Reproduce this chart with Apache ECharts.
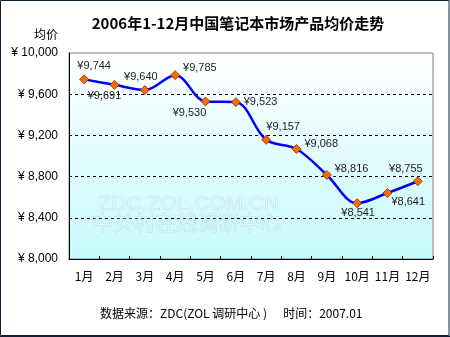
<!DOCTYPE html>
<html>
<head>
<meta charset="utf-8">
<script src="https://cdn.jsdelivr.net/npm/echarts@6/dist/echarts.min.js"></script>
<style>
  html, body { margin: 0; padding: 0; background: #ffffff; }
  #chart { width: 450px; height: 337px; }
</style>
</head>
<body>
<div id="chart"></div>
<script>
// Average notebook price by month, 2006 (CNY)
const months = ['1月', '2月', '3月', '4月', '5月', '6月', '7月', '8月', '9月', '10月', '11月', '12月'];
const avgPrice = [9744, 9691, 9640, 9785, 9530, 9523, 9157, 9068, 8816, 8541, 8641, 8755];
// where each value label sits relative to its marker
const labelSide = ['top', 'bottom', 'top', 'right', 'bottom', 'right', 'top', 'right', 'right', 'bottom', 'right', 'top'];
const labelShift = [[10, 0], [-10, -2], [-4, 0], [0, -7], [-16, -2], [0, 0], [17, 1], [0, -5], [0, -6], [1, -4], [-4, 9], [-12, 1]];
const yTicks = { min: 8000, max: 10000, step: 400 };

const fmt = v => v.toString().replace(/\B(?=(\d{3})+(?!\d))/g, ',');
const baseFont = 'Arial, "Liberation Sans", "Noto Sans CJK SC", sans-serif';
const cjkFont = '"Noto Sans CJK SC", sans-serif';

const chart = echarts.init(document.getElementById('chart'), null, { renderer: 'canvas' });

chart.setOption({
  backgroundColor: '#ffffff',
  animation: false,
  title: {
    text: '2006年1-12月中国笔记本市场产品均价走势',
    left: 233,
    textAlign: 'center',
    top: 11,
    textStyle: { fontSize: 15, fontWeight: 'bold', color: '#000', fontFamily: cjkFont }
  },
  grid: {
    left: 69, right: 17, top: 53, bottom: 78,
    show: true,
    borderColor: '#808080',
    borderWidth: 1,
    backgroundColor: {
      type: 'linear', x: 0, y: 0, x2: 0, y2: 1,
      colorStops: [{ offset: 0, color: '#ffffff' }, { offset: 1, color: '#c6f9fc' }]
    }
  },
  xAxis: {
    type: 'category',
    data: months,
    boundaryGap: true,
    axisLine: { lineStyle: { color: '#000', width: 1 } },
    axisTick: { show: true, inside: true, length: 3, lineStyle: { color: '#000' } },
    axisLabel: { interval: 0, margin: 11, fontSize: 12, color: '#000', fontFamily: cjkFont }
  },
  yAxis: {
    type: 'value',
    min: yTicks.min, max: yTicks.max, interval: yTicks.step,
    name: '均价',
    nameLocation: 'end',
    nameGap: 13,
    nameTextStyle: { fontSize: 12, color: '#000', align: 'right', padding: [0, 11, 0, 0], fontFamily: cjkFont },
    axisLine: { show: true, lineStyle: { color: '#000', width: 1 } },
    axisTick: { show: false },
    axisLabel: {
      margin: 11, fontSize: 12, color: '#000', fontFamily: baseFont,
      formatter: v => '¥ ' + fmt(v)
    },
    splitLine: {
      show: true, showMinLine: false, showMaxLine: false,
      lineStyle: { color: '#000', type: [3, 3], width: 1 }
    }
  },
  series: [{
    type: 'line',
    data: avgPrice.map((v, i) => ({
      value: v,
      label: { position: labelSide[i], offset: labelShift[i] }
    })),
    smooth: 0.35,
    symbol: 'diamond',
    symbolSize: 9,
    lineStyle: { color: '#0000ff', width: 2.5 },
    itemStyle: { color: '#ff6a00', borderColor: '#7a3000', borderWidth: 0.8 },
    label: {
      show: true,
      distance: 3,
      fontSize: 11,
      color: '#222',
      fontFamily: baseFont,
      formatter: p => '¥' + fmt(p.value)
    },
    z: 5
  }],
  graphic: [
    {
      type: 'text', left: 98, top: 193, z: 1, silent: true,
      style: {
        text: 'ZDC.ZOL.COM.CN', fontSize: 21, fontFamily: baseFont,
        fill: 'rgba(255,255,255,0.3)', stroke: 'rgba(130,160,160,0.3)', lineWidth: 0.7
      }
    },
    {
      type: 'text', left: 92, top: 211, z: 1, silent: true,
      style: {
        text: '中关村在线调研中心', fontSize: 21, fontFamily: cjkFont,
        fill: 'rgba(255,255,255,0.3)', stroke: 'rgba(130,160,160,0.3)', lineWidth: 0.7
      }
    },
    {
      type: 'text', left: 100, top: 307, silent: true,
      style: {
        text: '数据来源：ZDC(ZOL 调研中心 )      时间：2007.01',
        fontSize: 12, fill: '#000', fontFamily: cjkFont
      }
    },
    {
      type: 'rect', silent: true, z: 10,
      shape: { x: 0.5, y: 0.5, width: 448.5, height: 335 },
      style: { fill: 'none', stroke: '#0d2238', lineWidth: 1 }
    },
    {
      type: 'line', silent: true, z: 10,
      shape: { x1: 0, y1: 336.5, x2: 450, y2: 336.5 },
      style: { stroke: '#0d2238', lineWidth: 1 }
    }
  ]
});
</script>
</body>
</html>
